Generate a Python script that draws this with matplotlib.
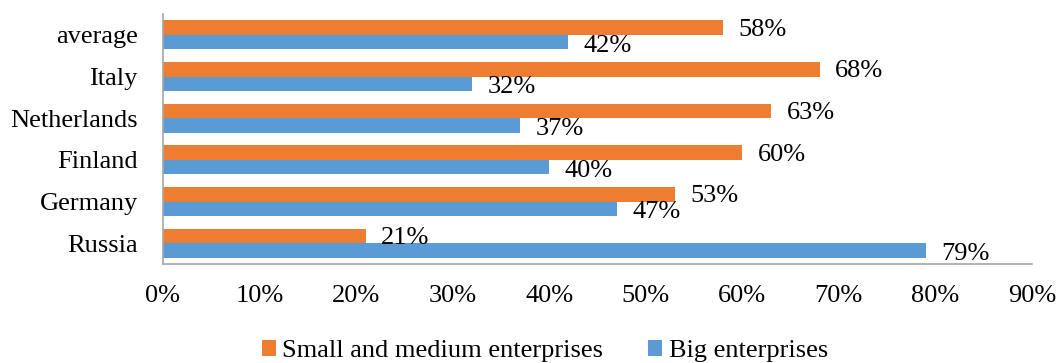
import numpy as np
import matplotlib.pyplot as plt

countries = ["Russia", "Germany", "Finland", "Netherlands", "Italy", "average"]
sme = [21, 53, 60, 63, 68, 58]
big = [79, 47, 40, 37, 32, 42]
xticks = [0, 10, 20, 30, 40, 50, 60, 70, 80, 90]

plt.rcParams['font.family'] = ['Liberation Serif', 'DejaVu Serif']
fs = 19

fig = plt.figure(figsize=(10.58, 3.63), dpi=100)
ax = fig.add_axes([0.154, 0.2727, 0.8214, 0.6887])

y = np.arange(len(countries))
h = 0.35
orange = "#ED7D31"
blue = "#5B9BD5"
b1 = ax.barh(y + h / 2, sme, height=h, color=orange, label="Small and medium enterprises")
b2 = ax.barh(y - h / 2, big, height=h, color=blue, label="Big enterprises")

for bars, vals, dy in ((b1, sme, -1.5), (b2, big, -2.5)):
    for bar, v in zip(bars, vals):
        ax.annotate(f"{v}%", (v, bar.get_y() + bar.get_height() / 2),
                    xytext=(11, dy), textcoords="offset points",
                    ha="left", va="center", fontsize=fs)

ax.set_xlim(0, 90)
ax.set_ylim(-0.5, 5.5)
ax.set_xticks(xticks)
ax.set_xticklabels([f"{t}%" for t in xticks], fontsize=fs)
ax.set_yticks(y)
ax.set_yticklabels(countries, fontsize=fs)
ax.tick_params(length=0, pad=15, axis="x")
ax.tick_params(length=0, pad=18, axis="y")
for s in ("top", "right"):
    ax.spines[s].set_visible(False)
for s in ("left", "bottom"):
    ax.spines[s].set_color("#A6A6A6")
    ax.spines[s].set_linewidth(1.2)

fig.legend(handles=[b1, b2], loc="center", bbox_to_anchor=(0.515, 0.033), ncol=2,
           frameon=False, fontsize=fs, handlelength=0.53, handleheight=0.53,
           handletextpad=0.25, columnspacing=1.7, borderaxespad=0, borderpad=0)

fig.savefig("out.png", dpi=100)
